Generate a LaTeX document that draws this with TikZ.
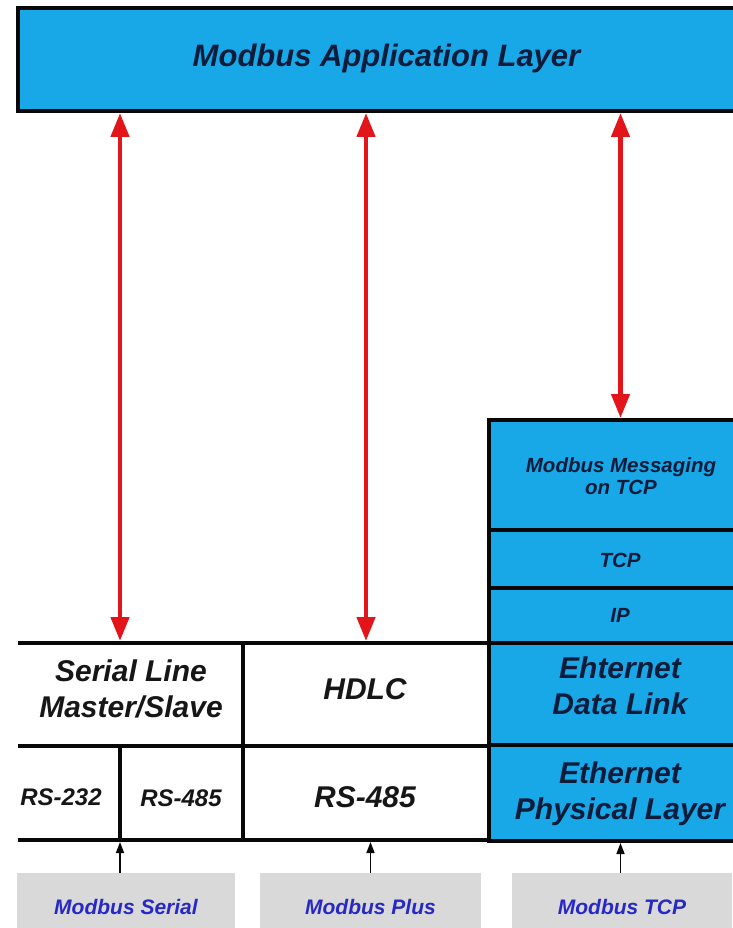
\documentclass[tikz,border=0pt]{standalone}
\usepackage{fontspec}
\setmainfont{Liberation Sans}
\usetikzlibrary{arrows.meta}
\definecolor{mblue}{RGB}{24,168,232}
\definecolor{navy}{RGB}{12,28,58}
\definecolor{lineblk}{RGB}{8,8,8}
\definecolor{ared}{RGB}{226,22,26}
\definecolor{lgray}{RGB}{217,217,217}
\definecolor{lblue}{RGB}{40,40,196}
\definecolor{txtblk}{RGB}{22,22,22}
\begin{document}
\begin{tikzpicture}[x=1pt,y=-1pt,
 bluebox/.style={draw=lineblk,fill=mblue,line width=4pt,rectangle,inner sep=0pt},
 cell/.style={rectangle,inner sep=0pt,outer sep=0pt},
 tbl/.style={draw=lineblk,line width=4pt},
 txt/.style={inner sep=0pt,align=center,font=#1\bfseries\itshape},
 title/.style={txt={\fontsize{31}{37}\selectfont},text=navy},
 bigB/.style={txt={\fontsize{30}{36}\selectfont},text=navy},
 bigW/.style={txt={\fontsize{30}{36}\selectfont},text=txtblk},
 smallW/.style={txt={\fontsize{24}{29}\selectfont},text=txtblk},
 smallB/.style={txt={\fontsize{20.5}{22}\selectfont},text=navy},
 graybox/.style={rectangle,fill=lgray,inner sep=0pt,text=lblue,font=\fontsize{21}{25}\selectfont\bfseries\itshape},
 redarr/.style={draw=ared,line width=4.5pt,{Triangle[width=18pt,length=24pt]}-{Triangle[width=18pt,length=24pt]}},
 blkarr/.style={draw=lineblk,line width=1.5pt,-{Triangle[width=8pt,length=11pt]}}
]
\useasboundingbox (0,0) rectangle (732,928);

% application layer
\node[bluebox,minimum width=737pt,minimum height=103pt] (app) at (386.5,59.5) {};
\node[title] (appT) at (386.5,58) {Modbus Application Layer};

% white table cells
\node[cell,minimum width=225pt,minimum height=103pt] (serial) at (130.5,694.5) {};
\node[cell,minimum width=246pt,minimum height=103pt] (hdlc) at (366,694.5) {};
\node[cell,minimum width=102pt,minimum height=94pt] (rs232) at (69,793) {};
\node[cell,minimum width=123pt,minimum height=94pt] (rs485a) at (181.5,793) {};
\node[cell,minimum width=246pt,minimum height=94pt] (rs485b) at (366,793) {};

\draw[tbl] (serial.north west) -- (hdlc.north east);
\draw[tbl] (serial.south west) -- (hdlc.south east);
\draw[tbl] (rs232.south west) -- (rs485b.south east);
\draw[tbl] (hdlc.north west) -- (rs485b.south west);
\draw[tbl] (rs232.north east) -- (rs232.south east);

\node[bigW] (serialT) at (131,689) {Serial Line\\Master/Slave};
\node[bigW] (hdlcT) at (365,689) {HDLC};
\node[smallW] (rs232T) at (61,797) {RS-232};
\node[smallW] (rs485aT) at (181,798) {RS-485};
\node[bigW] (rs485bT) at (365,797) {RS-485};

% TCP stack
\node[bluebox,minimum width=263pt,minimum height=110pt] (msg) at (620.5,475) {};
\node[bluebox,minimum width=263pt,minimum height=58pt] (tcp) at (620.5,559) {};
\node[bluebox,minimum width=263pt,minimum height=55pt] (ip) at (620.5,615.5) {};
\node[bluebox,minimum width=263pt,minimum height=102pt] (edl) at (620.5,694) {};
\node[bluebox,minimum width=263pt,minimum height=96pt] (ephy) at (620.5,793) {};

\node[smallB] (msgT) at (621,476) {Modbus Messaging\\on TCP};
\node[smallB] (tcpT) at (620,560) {TCP};
\node[smallB] (ipT) at (620,615) {IP};
\node[bigB] (edlT) at (620,686) {Ehternet\\Data Link};
\node[bigB] (ephyT) at (620,794) {Ethernet\\Physical Layer};

% red arrows
\draw[redarr,shorten >=2pt] (app.south -| rs232.east) -- (serial.north -| rs232.east);
\draw[redarr,shorten >=2pt] (app.south -| hdlc.north) -- (hdlc.north);
\draw[redarr] (app.south -| msg.north) -- (msg.north);

% gray protocol boxes
\node[graybox,minimum width=218pt,minimum height=67pt] (g1) at (126,906.5) {Modbus Serial};
\node[graybox,minimum width=221pt,minimum height=67pt] (g2) at (370.5,906.5) {Modbus Plus};
\node[graybox,minimum width=220pt,minimum height=67pt] (g3) at (622,906.5) {Modbus TCP};

\draw[blkarr,shorten >=2pt] (g1.north -| rs232.east) -- (rs232.south east);
\draw[blkarr,shorten >=2pt] (g2.north) -- (g2.north |- rs485b.south);
\draw[blkarr] (g3.north -| ephy.south) -- (ephy.south);
\end{tikzpicture}
\end{document}
